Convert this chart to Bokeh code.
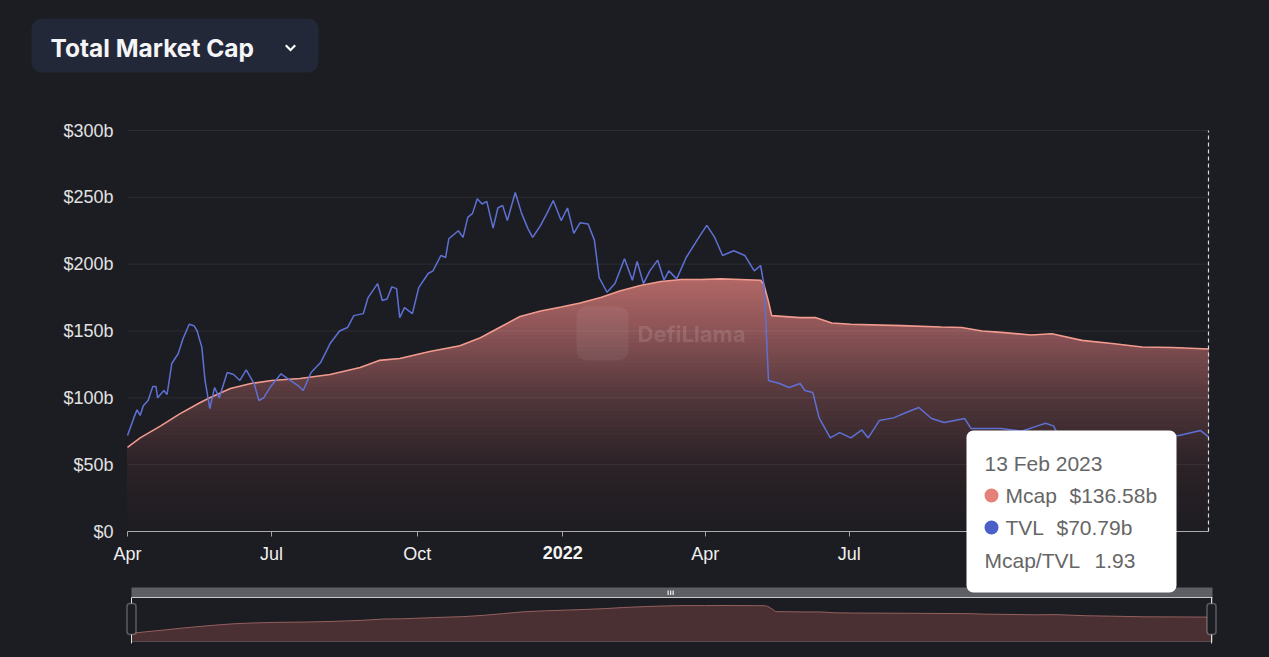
import numpy as np
import pandas as pd
from bokeh.plotting import figure
from bokeh.models import (Range1d, FixedTicker, Label, BoxAnnotation, PolyAnnotation,
                          LinearAxis, DatetimeAxis)
from bokeh.embed import file_html
from bokeh.resources import INLINE

# ---------------- data (values in billions of USD) ----------------
tvl_dates = [
    "2021-04-01", "2021-04-05", "2021-04-07", "2021-04-09", "2021-04-11", "2021-04-14", "2021-04-17",
    "2021-04-19", "2021-04-20", "2021-04-24", "2021-04-26", "2021-04-29", "2021-05-03", "2021-05-06",
    "2021-05-10", "2021-05-13", "2021-05-15", "2021-05-18", "2021-05-20", "2021-05-23", "2021-05-26",
    "2021-05-29", "2021-06-03", "2021-06-07", "2021-06-11", "2021-06-15", "2021-06-20", "2021-06-23",
    "2021-06-26", "2021-06-30", "2021-07-07", "2021-07-11", "2021-07-18", "2021-07-21", "2021-07-26",
    "2021-08-01", "2021-08-07", "2021-08-13", "2021-08-18", "2021-08-22", "2021-08-28", "2021-08-31",
    "2021-09-06", "2021-09-09", "2021-09-12", "2021-09-15", "2021-09-18", "2021-09-20", "2021-09-23",
    "2021-09-28", "2021-10-02", "2021-10-08", "2021-10-11", "2021-10-16", "2021-10-19", "2021-10-21",
    "2021-10-27", "2021-10-30", "2021-11-02", "2021-11-05", "2021-11-08", "2021-11-11", "2021-11-14",
    "2021-11-18", "2021-11-21", "2021-11-24", "2021-11-27", "2021-12-02", "2021-12-06", "2021-12-10",
    "2021-12-13", "2021-12-18", "2021-12-22", "2021-12-26", "2021-12-31", "2022-01-04", "2022-01-08",
    "2022-01-12", "2022-01-17", "2022-01-21", "2022-01-24", "2022-01-29", "2022-02-03", "2022-02-09",
    "2022-02-14", "2022-02-17", "2022-02-21", "2022-02-25", "2022-03-02", "2022-03-06", "2022-03-09",
    "2022-03-14", "2022-03-20", "2022-03-28", "2022-04-02", "2022-04-07", "2022-04-12", "2022-04-19",
    "2022-04-26", "2022-05-02", "2022-05-06", "2022-05-08", "2022-05-09", "2022-05-11", "2022-05-18",
    "2022-05-24", "2022-05-31", "2022-06-03", "2022-06-08", "2022-06-12", "2022-06-19", "2022-06-25",
    "2022-07-02", "2022-07-09", "2022-07-13", "2022-07-20", "2022-07-29", "2022-08-06", "2022-08-14",
    "2022-08-22", "2022-08-30", "2022-09-12", "2022-09-16", "2022-10-05", "2022-10-18", "2022-10-28",
    "2022-11-02", "2022-11-07", "2022-11-12", "2022-11-20", "2022-12-07", "2022-12-26", "2023-01-14",
    "2023-01-26", "2023-02-08", "2023-02-13",
]
tvl_values = [
    71.8, 85, 91, 86.8, 94, 98, 108.5,
    108.5, 100, 105.5, 102.5, 125.7, 133, 144,
    155, 154, 150, 137.6, 113, 92, 107.7,
    100, 119, 117.5, 113, 121, 110.7, 98,
    100, 107.7, 118, 114.5, 109, 105.5, 119,
    126.4, 140.6, 150, 152.6, 161.5, 163, 175,
    185.5, 172.8, 174, 183, 181.7, 160, 167.5,
    163, 182.5, 193, 195, 206.5, 205, 219,
    225, 220, 235, 238, 249, 245, 247,
    227, 242, 244, 232.6, 253.6, 238, 226.6,
    220, 229, 238, 247.6, 232.6, 242, 223,
    231, 230, 218, 190, 179, 185.5, 204,
    188, 202, 185.5, 195, 203, 188, 195,
    189, 205, 220, 229, 220, 206.5, 210,
    206.5, 195, 199, 185.5, 165, 113, 110.7,
    107.7, 110.7, 105.5, 104, 85, 70, 74,
    70, 76, 70, 83, 85, 89, 92.8,
    84.5, 81.5, 84.5, 77, 77, 75, 79,
    81, 79, 68, 66, 67, 66, 70,
    72, 75.5, 70.79,
]

mcap_dates = [
    "2021-04-01", "2021-04-09", "2021-04-22", "2021-05-04", "2021-05-17", "2021-05-23", "2021-06-05",
    "2021-06-18", "2021-07-01", "2021-07-19", "2021-08-07", "2021-08-26", "2021-09-07", "2021-09-20",
    "2021-10-09", "2021-10-28", "2021-11-10", "2021-11-22", "2021-12-05", "2021-12-18", "2021-12-31",
    "2022-01-12", "2022-01-25", "2022-02-06", "2022-02-19", "2022-03-04", "2022-03-17", "2022-03-29",
    "2022-04-11", "2022-04-23", "2022-05-06", "2022-05-08", "2022-05-11", "2022-05-13", "2022-05-31",
    "2022-06-10", "2022-06-20", "2022-07-02", "2022-08-03", "2022-08-28", "2022-09-10", "2022-09-23",
    "2022-10-05", "2022-10-24", "2022-11-06", "2022-11-25", "2022-12-14", "2023-01-02", "2023-01-21",
    "2023-02-13",
]
mcap_values = [
    63, 70, 79, 88, 96.5, 100, 107,
    110.7, 113, 114.5, 117.5, 122.7, 128, 129.4,
    134.6, 139, 145, 152.6, 160.8, 165, 168,
    171, 175, 180, 184, 187, 188.5, 188.5,
    189, 188.5, 188, 185, 172, 161.5, 160,
    160, 156, 155, 154, 153, 152.6, 150,
    149, 147, 148, 143, 140.6, 138, 137.6,
    136.58,
]

y_ticks = [0, 50, 100, 150, 200, 250, 300]
y_tick_labels = ["$0", "$50b", "$100b", "$150b", "$200b", "$250b", "$300b"]
x_tick_dates = ["2021-04-01", "2021-07-01", "2021-10-01", "2022-01-01",
                "2022-04-01", "2022-07-01", "2022-10-01", "2023-01-01"]
x_tick_labels = ["Apr", "Jul", "Oct", "2022", "Apr", "Jul", "Oct", "2023"]
x_tick_bold = [False, False, False, True, False, False, False, True]

title_text = "Total Market Cap"
mcap_name = "Mcap"
tvl_name = "TVL"
ratio_name = "Mcap/TVL"
watermark = "DefiLlama"

# ---------------- styling / pixel layout ----------------
BG = "#1c1d22"
W, H = 1269, 657
FONT = "Liberation Sans"
MCAP_LINE = "#f19b8e"
TVL_LINE = "#5f70d4"
PLOT_L, PLOT_R, PLOT_T, PLOT_B = 127, 1208, 130, 531      # main plot area (px)
SL_L, SL_R, SL_T, SL_B = 131, 1212, 597, 641              # slider area (px)
SL_VMIN, SL_VMAX = 27, 225                                # slider value window


def ms(d):
    return int(pd.Timestamp(d).value // 10**6)


def x_window(v0, v1, p0, p1):
    k = (v1 - v0) / (p1 - p0)
    return v0 - p0 * k, v0 + (W - p0) * k


def y_window(v0, v1, p0, p1):
    # p0 = pixel (from top) of v0, p1 = pixel of v1
    k = (v1 - v0) / (p0 - p1)
    return v0 + (p0 - H) * k, v0 + p0 * k


mx = pd.to_datetime(mcap_dates)
mv = np.array(mcap_values, dtype=float)
tx = pd.to_datetime(tvl_dates)
tv = np.array(tvl_values, dtype=float)

x_start = ms(mcap_dates[0])
x_end = ms(mcap_dates[-1])
y_lo, y_hi = y_ticks[0], y_ticks[-1]

p = figure(width=W, height=H,
           x_range=Range1d(*x_window(x_start, x_end, PLOT_L, PLOT_R)),
           y_range=Range1d(*y_window(y_lo, y_hi, PLOT_B, PLOT_T)),
           x_axis_location=None, y_axis_location=None,
           output_backend="svg", toolbar_location=None, min_border=0,
           background_fill_color=BG, border_fill_color=BG, outline_line_color=None)
p.grid.visible = False
p.extra_x_ranges = {"sl": Range1d(*x_window(x_start, x_end, SL_L, SL_R))}
p.extra_y_ranges = {"sl": Range1d(*y_window(SL_VMIN, SL_VMAX, SL_B, SL_T))}

# gradient fill under the Mcap curve, built from stacked bands
anchor_v = [0, 30, 53, 98, 150, 189, 300]
anchor_rgb = np.array([(30, 29, 34), (38, 32, 37), (46, 36, 41), (80, 54, 58),
                       (140, 84, 87), (178, 104, 102), (185, 108, 105)], dtype=float)


def band_color(v):
    r = np.interp(v, anchor_v, anchor_rgb[:, 0])
    g = np.interp(v, anchor_v, anchor_rgb[:, 1])
    b = np.interp(v, anchor_v, anchor_rgb[:, 2])
    return "#%02x%02x%02x" % (int(r), int(g), int(b))


step = 3.0
for hi in np.arange(192.0, 0.0, -step):
    p.varea(x=mx, y1=0, y2=np.minimum(mv, hi), fill_color=band_color(hi - step / 2),
            fill_alpha=1.0)

# horizontal grid lines
n = len(y_ticks)
p.segment(x0=[mx[0]] * n, x1=[mx[-1]] * n, y0=y_ticks, y1=y_ticks,
          line_color="#ffffff", line_alpha=0.07, line_width=1, level="annotation")

p.line(mx, mv, line_color=MCAP_LINE, line_width=1.6)
p.line(tx, tv, line_color=TVL_LINE, line_width=1.5)

# dashed cursor line at the hovered date
p.segment(x0=[mx[-1]], x1=[mx[-1]], y0=[y_lo], y1=[y_hi], line_color="#d8d8d8",
          line_dash="4 3", line_width=1.2, level="annotation")

# axes (fixed inside the canvas)
yaxis = LinearAxis(fixed_location=x_start, ticker=FixedTicker(ticks=y_ticks),
                   bounds=(y_lo, y_hi))
yaxis.major_label_overrides = {t: l for t, l in zip(y_ticks, y_tick_labels)}
yaxis.axis_line_color = None
yaxis.major_tick_line_color = None
yaxis.minor_tick_line_color = None
yaxis.major_label_text_color = "#e2e2e2"
yaxis.major_label_text_font = FONT
yaxis.major_label_text_font_size = "18px"
yaxis.major_label_standoff = 8
p.add_layout(yaxis, "left")

x_ticks = [ms(d) for d in x_tick_dates]
xaxis = DatetimeAxis(fixed_location=y_lo, ticker=FixedTicker(ticks=x_ticks),
                     bounds=(x_start, x_end))
xaxis.major_label_overrides = {t: ("" if b else l) for t, l, b in zip(x_ticks, x_tick_labels, x_tick_bold)}
xaxis.axis_line_color = "#a4a4a4"
xaxis.major_tick_line_color = "#a4a4a4"
xaxis.major_tick_out = 5
xaxis.major_tick_in = 0
xaxis.minor_tick_line_color = None
xaxis.major_label_text_color = "#efefef"
xaxis.major_label_text_font = FONT
xaxis.major_label_text_font_size = "18px"
xaxis.major_label_standoff = 7
p.add_layout(xaxis, "below")
for t, l, b in zip(x_ticks, x_tick_labels, x_tick_bold):
    if b:
        p.add_layout(Label(x=t, y=552, x_units="data", y_units="canvas", text=l,
                           text_align="center", text_baseline="middle",
                           text_font=FONT, text_font_style="bold",
                           text_font_size="18px", text_color="#f4f4f4"))


def cbox(l, r, t, b, **kw):
    kw.setdefault("level", "overlay")
    p.add_layout(BoxAnnotation(left=l, right=r, top=t, bottom=b,
                               left_units="canvas", right_units="canvas",
                               top_units="canvas", bottom_units="canvas", **kw))


# watermark
cbox(576, 628, 306, 360, fill_color="#ffffff", fill_alpha=0.06, line_color=None,
     border_radius=10, level="annotation")
p.add_layout(Label(x=637, y=333, x_units="canvas", y_units="canvas", text=watermark,
                   text_baseline="middle", text_font="Inter", text_font_style="bold",
                   text_font_size="22px", text_color="#ffffff", text_alpha=0.13))

# header button
cbox(31, 318, 18, 72, fill_color="#222837", fill_alpha=1.0, line_color=None, border_radius=10)
p.add_layout(Label(x=50, y=47, x_units="canvas", y_units="canvas", text=title_text,
                   text_baseline="middle", text_font="Inter", text_font_style="bold",
                   text_font_size="24.5px", text_color="#f5f5f7", level="overlay"))
p.add_layout(PolyAnnotation(xs=[284.5, 286, 290, 294, 295.5, 290],
                            ys=[45.5, 44, 48, 44, 45.5, 51],
                            xs_units="canvas", ys_units="canvas",
                            fill_color="#ffffff", fill_alpha=1.0, line_color=None,
                            level="overlay"))

# ---------------- data-zoom slider ----------------
p.varea(x=mx, y1=SL_VMIN, y2=mv, fill_color="#4a2f33", fill_alpha=1.0,
        x_range_name="sl", y_range_name="sl")
p.line(mx, mv, line_color="#94605e", line_width=1, x_range_name="sl", y_range_name="sl")
cbox(SL_L, SL_R, SL_T, SL_B, fill_color=None, line_color="#a8a8a8", line_width=1)
cbox(SL_L, SL_R, 587, SL_T - 0.5, fill_color="#5d5f64", fill_alpha=1.0, line_color=None)
cbox(SL_L, SL_R, SL_T - 0.5, SL_T + 0.5, fill_color="#c8c8c8", fill_alpha=1.0, line_color=None)
for gx in (667, 669.5, 672):
    cbox(gx, gx + 1.3, 590, 594.5, fill_color="#e8e8e8", fill_alpha=1.0, line_color=None)
for hx in (SL_L, SL_R - 1):
    cbox(hx - 0.5, hx + 0.5, SL_T, SL_B + 2, fill_color="#e0e0e0", fill_alpha=1.0, line_color=None)
    cbox(hx - 4.5, hx + 4.5, 603, 634, fill_color=BG, fill_alpha=1.0, line_color="#f0f0f0",
         line_width=1.5, border_radius=3)

# ---------------- tooltip ----------------
cbox(966, 1176, 430, 592, fill_color="#ffffff", fill_alpha=1.0, line_color=None, border_radius=7)
tip_date = pd.Timestamp(mcap_dates[-1]).strftime("%-d %b %Y")
TIPC = "#666666"


def tip_text(x, y, s):
    p.add_layout(Label(x=x, y=y, x_units="canvas", y_units="canvas", text=s,
                       text_baseline="middle", text_font=FONT, text_font_size="21px",
                       text_color=TIPC, level="overlay"))


tip_text(984, 463, tip_date)
cbox(984, 998, 488, 502, fill_color="#e4807a", fill_alpha=1.0, line_color=None, border_radius=7)
tip_text(1005, 495, mcap_name)
tip_text(1069, 495, "$%.2fb" % mcap_values[-1])
cbox(984, 998, 520, 534, fill_color="#4b5fc8", fill_alpha=1.0, line_color=None, border_radius=7)
tip_text(1005, 527, tvl_name)
tip_text(1056, 527, "$%.2fb" % tvl_values[-1])
tip_text(984, 560, ratio_name)
tip_text(1094, 560, "%.2f" % (mcap_values[-1] / tvl_values[-1]))

html = file_html(p, INLINE)
html = html.replace("<head>", "<head><style>html,body{margin:0;padding:0;background:%s;}</style>" % BG, 1)
open("out.html", "w").write(html)
